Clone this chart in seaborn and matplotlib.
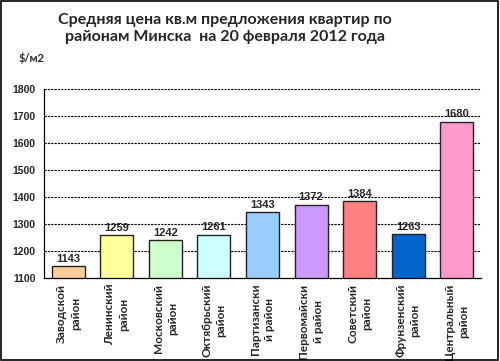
import numpy as np
import pandas as pd
import matplotlib
matplotlib.use('Agg')
import matplotlib.pyplot as plt
import seaborn as sns

# data
districts = ['Заводской\nрайон', 'Ленинский\nрайон', 'Московский\nрайон',
             'Октябрьский\nрайон', 'Партизански\nй район', 'Первомайски\nй район',
             'Советский\nрайон', 'Фрунзенский\nрайон', 'Центральный\nрайон']
prices = [1143, 1259, 1242, 1261, 1343, 1372, 1384, 1263, 1680]
colors = ['#FFCC99', '#FFFF99', '#CCFFCC', '#CCFFFF', '#99CCFF',
          '#CC99FF', '#FF8080', '#0066CC', '#FF99CC']
y_ticks = [1100, 1200, 1300, 1400, 1500, 1600, 1700, 1800]

df = pd.DataFrame({'district': districts, 'price': prices})

sns.set_style('white')
plt.rcParams['font.family'] = ['Liberation Sans', 'DejaVu Sans']

fig = plt.figure(figsize=(5, 3.61), dpi=100)
ax = fig.add_axes([0.088, 0.23, 0.874, 0.523])

# dashed grid behind bars
for y in y_ticks[1:]:
    ax.axhline(y, color='black', linestyle=(0, (2, 1)), linewidth=0.8, zorder=0)

sns.barplot(data=df, x='district', y='price', hue='district', palette=colors,
            saturation=1, legend=False, width=0.68, edgecolor='#222222',
            linewidth=1.0, ax=ax, zorder=2)
ax.set_ylim(1100, 1800)
ax.set_xlim(-0.5, len(districts) - 0.5)
ax.set_yticks(y_ticks)
ax.set_yticklabels([str(v) for v in y_ticks], fontsize=7.5, fontweight='bold')

for i, v in enumerate(prices):
    ax.text(i, v + 8, str(v), ha='center', va='bottom', fontsize=8,
            fontweight='bold', zorder=3)

ax.set_xticks(np.arange(len(districts)))
ax.set_xticklabels(districts, rotation=90, fontsize=8.5, fontweight='bold',
                   va='top', ha='center', multialignment='center',
                   linespacing=1.35, family=['Lato', 'DejaVu Sans'])
ax.tick_params(axis='x', length=0, pad=4)
ax.set_xticks(np.arange(len(districts) + 1) - 0.5, minor=True)
ax.tick_params(axis='x', which='minor', length=4, direction='out', width=0.8)
ax.tick_params(axis='y', length=4, direction='out', width=0.8, pad=2)
ax.set_xlabel('')
ax.set_ylabel('')

for side in ['top', 'right']:
    ax.spines[side].set_visible(False)
for side in ['left', 'bottom']:
    ax.spines[side].set_color('black')
    ax.spines[side].set_linewidth(0.9)

fig.text(0.45, 0.965, 'Средняя цена кв.м предложения квартир по\nрайонам Минска  на 20 февраля 2012 года',
         ha='center', va='top', fontsize=11.5, fontweight='bold',
         family=['Lato', 'DejaVu Sans'], linespacing=1.3)
fig.text(0.064, 0.84, '$/м2', ha='center', va='center', fontsize=8, fontweight='bold',
         family=['Lato', 'DejaVu Sans'])

# outer frame
fig.patches.append(plt.Rectangle((0.002, 0.003), 0.994, 0.993, transform=fig.transFigure,
                                 fill=False, edgecolor='black', linewidth=1.2))

plt.savefig('out.png', dpi=100)
